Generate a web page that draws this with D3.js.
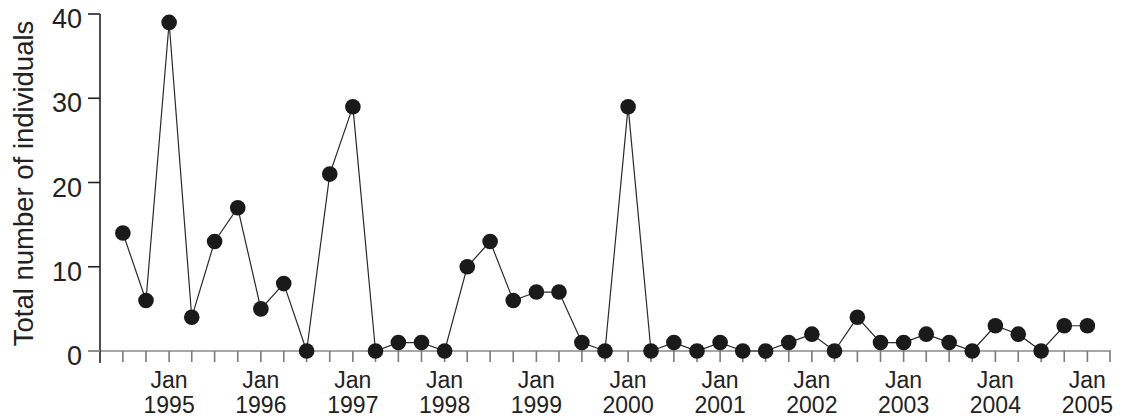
<!DOCTYPE html>
<html>
<head>
<meta charset="utf-8">
<script src="https://cdn.jsdelivr.net/npm/d3@7"></script>
<style>
  html, body { margin: 0; padding: 0; background: #fff; }
  svg { display: block; font-family: "Liberation Sans", Arial, sans-serif; }
</style>
</head>
<body>
<svg id="chart" width="1125" height="419"></svg>
<script>
// Quarterly survey dates (year, month index) and counts
const sampleDates = [
  [1994, 6], [1994, 9],
  [1995, 0], [1995, 3], [1995, 6], [1995, 9],
  [1996, 0], [1996, 3], [1996, 6], [1996, 9],
  [1997, 0], [1997, 3], [1997, 6], [1997, 9],
  [1998, 0], [1998, 3], [1998, 6], [1998, 9],
  [1999, 0], [1999, 3], [1999, 6], [1999, 9],
  [2000, 0], [2000, 3], [2000, 6], [2000, 9],
  [2001, 0], [2001, 3], [2001, 6], [2001, 9],
  [2002, 0], [2002, 3], [2002, 6], [2002, 9],
  [2003, 0], [2003, 3], [2003, 6], [2003, 9],
  [2004, 0], [2004, 3], [2004, 6], [2004, 9],
  [2005, 0]
];
const individuals = [
  14, 6,
  39, 4, 13, 17,
  5, 8, 0, 21,
  29, 0, 1, 1,
  0, 10, 13, 6,
  7, 7, 1, 0,
  29, 0, 1, 0,
  1, 0, 0, 1,
  2, 0, 4, 1,
  1, 2, 1, 0,
  3, 2, 0, 3,
  3
];
const yTicks = [0, 10, 20, 30, 40];
const yearLabels = [1995, 1996, 1997, 1998, 1999, 2000, 2001, 2002, 2003, 2004, 2005];
const yLabel = "Total number of individuals";

const data = sampleDates.map((d, i) => ({ date: new Date(d[0], d[1], 1), value: individuals[i] }));

const svg = d3.select("#chart");
const plotLeft = 100, plotRight = 1110, plotTop = 14, plotBottom = 351;

const x = d3.scaleTime()
  .domain([new Date(1994, 3, 1), new Date(2005, 3, 1)])
  .range([plotLeft, plotRight]);
const y = d3.scaleLinear().domain([0, 40]).range([plotBottom, plotTop]);

// x axis: grey baseline with quarterly ticks
const quarterTicks = d3.timeMonth.every(3).range(new Date(1994, 6, 1), new Date(2005, 4, 1));
const xAxis = svg.append("g").attr("transform", `translate(0,${plotBottom})`);
xAxis.append("line")
  .attr("x1", plotLeft - 12).attr("x2", plotRight + 1)
  .attr("y1", 0).attr("y2", 0)
  .attr("stroke", "#8a8a8a").attr("stroke-width", 1.6);
xAxis.selectAll("line.tick")
  .data(quarterTicks)
  .join("line")
  .attr("class", "tick")
  .attr("x1", d => x(d)).attr("x2", d => x(d))
  .attr("y1", 0).attr("y2", 11)
  .attr("stroke", "#7a7a7a").attr("stroke-width", 1.6);

// Year labels under each January tick
const lbl = xAxis.selectAll("text.year")
  .data(yearLabels)
  .join("text")
  .attr("class", "year")
  .attr("text-anchor", "middle")
  .attr("font-size", 23)
  .attr("fill", "#222");
lbl.append("tspan")
  .attr("x", d => x(new Date(d, 0, 1)))
  .attr("y", 37)
  .text("Jan");
lbl.append("tspan")
  .attr("x", d => x(new Date(d, 0, 1)))
  .attr("y", 62)
  .text(d => d);

// y axis: dark spine running a little below the baseline
const yAxis = svg.append("g");
yAxis.append("line")
  .attr("x1", plotLeft).attr("x2", plotLeft)
  .attr("y1", plotTop).attr("y2", plotBottom + 12)
  .attr("stroke", "#222").attr("stroke-width", 1.6);
yAxis.selectAll("line.tick")
  .data(yTicks)
  .join("line")
  .attr("class", "tick")
  .attr("x1", plotLeft - 12).attr("x2", plotLeft)
  .attr("y1", d => y(d)).attr("y2", d => y(d))
  .attr("stroke", d => d === 0 ? "#8a8a8a" : "#222")
  .attr("stroke-width", 1.6);
yAxis.selectAll("text")
  .data(yTicks)
  .join("text")
  .attr("x", 82)
  .attr("y", d => y(d) + 14)
  .attr("text-anchor", "end")
  .attr("font-size", 27)
  .attr("fill", "#222")
  .text(d => d);

svg.append("text")
  .attr("transform", `translate(33,${(plotTop + plotBottom) / 2 + 1}) rotate(-90)`)
  .attr("text-anchor", "middle")
  .attr("font-size", 27.5)
  .attr("fill", "#222")
  .text(yLabel);

// Series line and markers
const line = d3.line().x(d => x(d.date)).y(d => y(d.value));
svg.append("path")
  .datum(data)
  .attr("d", line)
  .attr("fill", "none")
  .attr("stroke", "#2a2a2a")
  .attr("stroke-width", 1.2);

svg.selectAll("circle")
  .data(data)
  .join("circle")
  .attr("cx", d => x(d.date))
  .attr("cy", d => y(d.value))
  .attr("r", 7.8)
  .attr("fill", "#1a1a1a");
</script>
</body>
</html>
